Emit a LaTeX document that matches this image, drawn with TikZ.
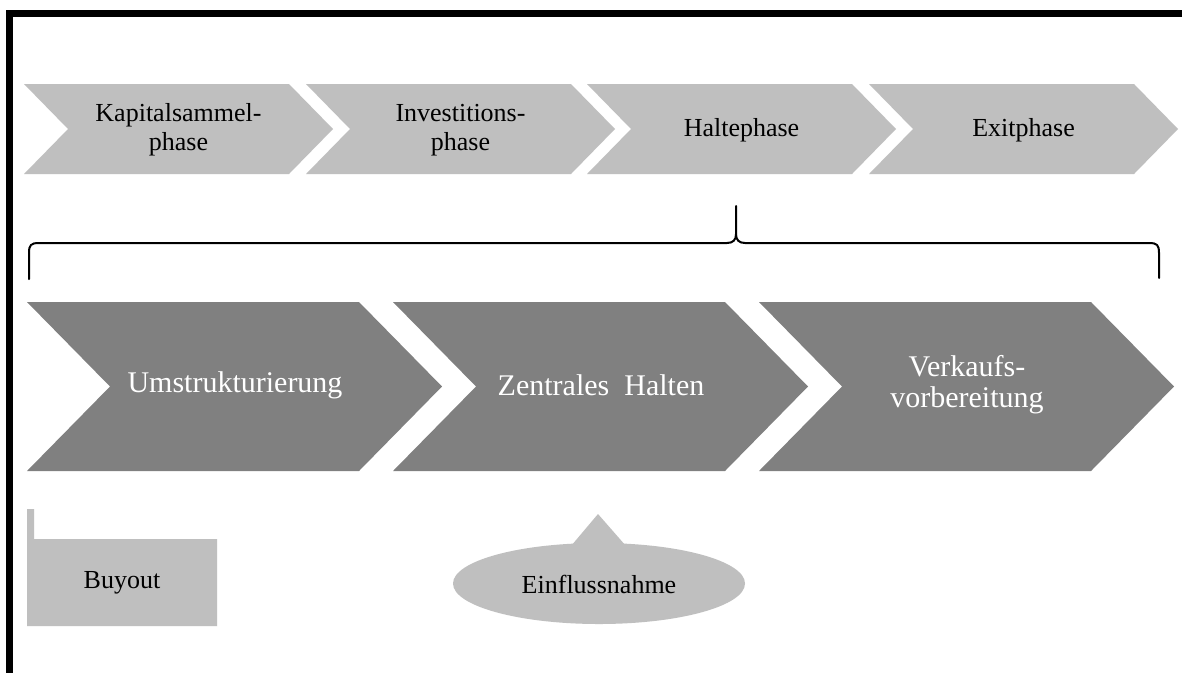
\documentclass[tikz,border=0pt]{standalone}
\usepackage{fontspec}
\setmainfont{Liberation Serif}
\usetikzlibrary{shapes.geometric}
\definecolor{lightgr}{HTML}{BFBFBF}
\definecolor{darkgr}{HTML}{808080}
\tikzset{
  toptext/.style={align=center, text=black, font=\fontsize{26}{29}\selectfont, inner sep=0pt},
  bottext/.style={align=center, text=white, font=\fontsize{30}{31}\selectfont, inner sep=0pt},
  topchev/.style={fill=lightgr, draw=none},
  botchev/.style={fill=darkgr, draw=none},
  bracketline/.style={draw=black, line width=2pt, line cap=round},
  frameline/.style={fill=black}
}
\begin{document}
\begin{tikzpicture}[x=1pt, y=-1pt]
\useasboundingbox (0,0) rectangle (1182,673);
\fill[white] (0,0) rectangle (1182,673);
% frame
\fill[frameline] (6,10) rectangle (1182,17);
\fill[frameline] (6,10) rectangle (13,673);
% top chevrons: left, width 265, depth 44, y 84..174
\foreach \l/\n/\t in {24/c1/{Kapitalsammel-\\phase}, 306/c2/{Investitions-\\phase}, 587/c3/{Haltephase}, 869/c4/{Exitphase}}{
  \fill[topchev] (\l,84) -- ({\l+265},84) -- ({\l+309},129) -- ({\l+265},174) -- (\l,174) -- ({\l+44},129) -- cycle;
  \node[toptext] (\n) at ({\l+154.5},130) {\t};
}
% bracket
\coordinate (bl) at (29,279);
\coordinate (br) at (1159,278);
\coordinate (bm) at (736,206);
\draw[bracketline] (bl) -- (29,253) .. controls (29,245) and (31,243) .. (39,243) -- (727,243) .. controls (733,243) and (736,240) .. (736,234) -- (bm);
\draw[bracketline] (br) -- (1159,253) .. controls (1159,245) and (1157,243) .. (1149,243) -- (745,243) .. controls (739,243) and (736,240) .. (736,234);
% bottom chevrons: left, width 332, depth 83, y 302..471
\foreach \l/\n/\t in {27/d1/{Umstrukturierung}, 393/d2/{Zentrales\ \ Halten}, 759/d3/{Verkaufs-\\vorbereitung}}{
  \fill[botchev] (\l,302) -- ({\l+332},302) -- ({\l+415},386.5) -- ({\l+332},471) -- (\l,471) -- ({\l+83},386.5) -- cycle;
  \node[bottext] (\n) at ({\l+208},385) {\t};
}
% Buyout
\fill[lightgr] (27,509) -- (34,509) -- (34,539) -- (217,539) -- (217,626) -- (27,626) -- cycle;
\node[toptext] (buyout) at (122,583) {Buyout};
% Einflussnahme
\fill[lightgr] (598,514) -- (626,546) -- (571,546) -- cycle;
\node[ellipse, fill=lightgr, minimum width=292pt, minimum height=81pt, inner sep=0pt, font=\fontsize{26}{29}\selectfont] (einfl) at (599,583.5) {};
\node[toptext] (einfltext) at (599,584) {Einflussnahme};
\end{tikzpicture}
\end{document}
